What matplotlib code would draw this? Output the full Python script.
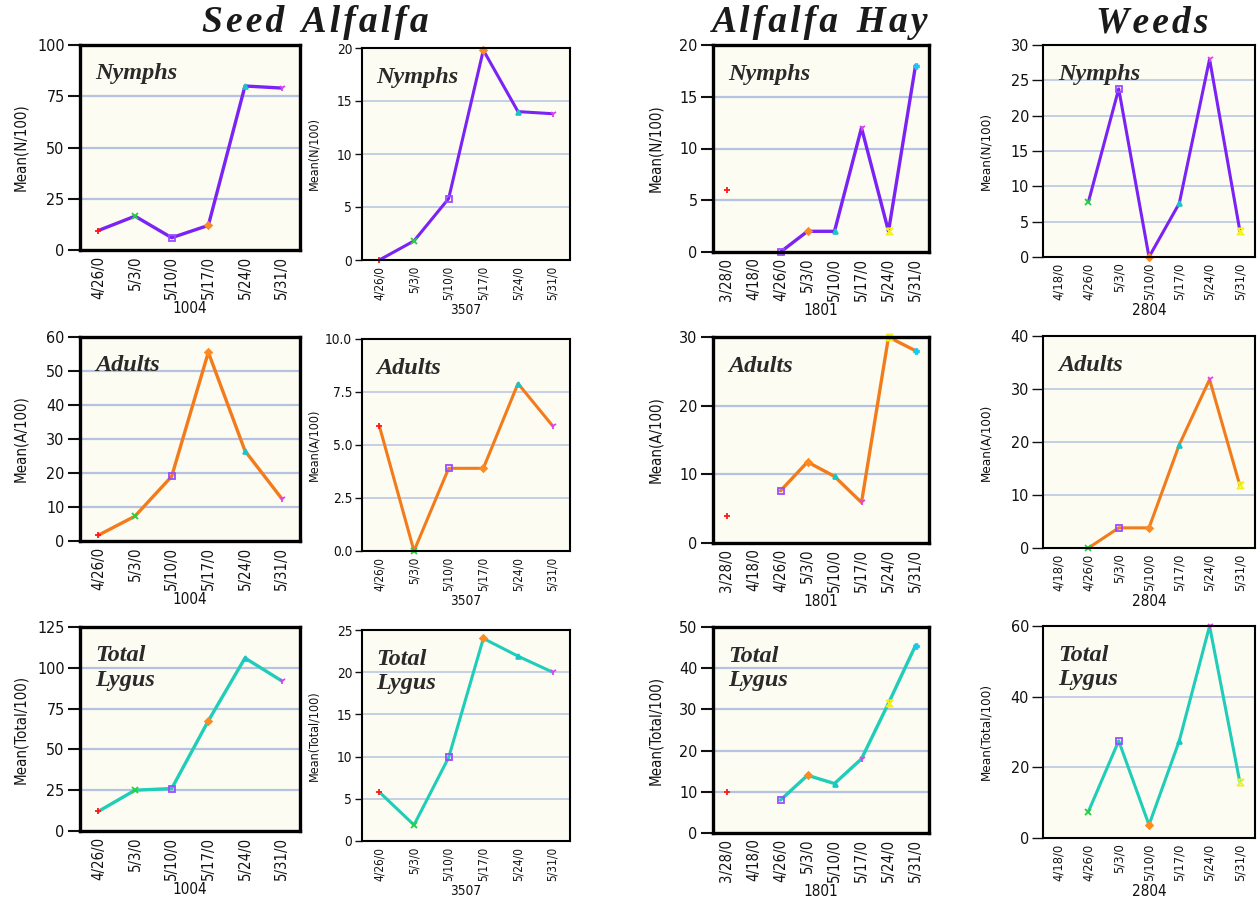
import numpy as np
import matplotlib
matplotlib.use("Agg")
import matplotlib.pyplot as plt

# ---- data ----
dates_1004 = ["4/26/0", "5/3/0", "5/10/0", "5/17/0", "5/24/0", "5/31/0"]
nymphs_1004 = [9.5, 16.5, 6.0, 12.0, 80.0, 79.0]
adults_1004 = [1.7, 7.3, 19.0, 55.5, 26.5, 12.5]
total_1004 = [12.0, 25.0, 26.0, 67.5, 106.0, 92.0]

dates_3507 = ["4/26/0", "5/3/0", "5/10/0", "5/17/0", "5/24/0", "5/31/0"]
nymphs_3507 = [0.0, 1.8, 5.8, 19.8, 14.0, 13.8]
adults_3507 = [5.9, 0.0, 3.9, 3.9, 7.9, 5.9]
total_3507 = [5.8, 1.9, 9.9, 24.0, 21.9, 20.0]

dates_1801 = ["3/28/0", "4/18/0", "4/26/0", "5/3/0", "5/10/0", "5/17/0", "5/24/0", "5/31/0"]
nymphs_1801 = [6.0, np.nan, 0.0, 2.0, 2.0, 12.0, 2.0, 18.0]
adults_1801 = [4.0, np.nan, 7.6, 11.8, 9.7, 5.9, 30.0, 28.0]
total_1801 = [10.0, np.nan, 8.0, 14.0, 12.0, 18.0, 31.5, 45.5]

dates_2804 = ["4/18/0", "4/26/0", "5/3/0", "5/10/0", "5/17/0", "5/24/0", "5/31/0"]
nymphs_2804 = [np.nan, 7.8, 23.8, 0.0, 7.6, 28.0, 3.7]
adults_2804 = [np.nan, 0.0, 3.8, 3.8, 19.5, 31.8, 11.8]
total_2804 = [np.nan, 7.5, 27.5, 3.7, 27.5, 60.0, 15.8]

yticks_1004 = [[0, 25, 50, 75, 100], [0, 10, 20, 30, 40, 50, 60], [0, 25, 50, 75, 100, 125]]
yticks_3507 = [[0, 5, 10, 15, 20], [0.0, 2.5, 5.0, 7.5, 10.0], [0, 5, 10, 15, 20, 25]]
yticks_1801 = [[0, 5, 10, 15, 20], [0, 10, 20, 30], [0, 10, 20, 30, 40, 50]]
yticks_2804 = [[0, 5, 10, 15, 20, 25, 30], [0, 10, 20, 30, 40], [0, 20, 40, 60]]

row_names = ["Nymphs", "Adults", "Total\nLygus"]
y_labels = ["Mean(N/100)", "Mean(A/100)", "Mean(Total/100)"]
line_colors = ["#7B22F5", "#F27C1C", "#1FCDB8"]
group_titles = ["Seed Alfalfa", "Alfalfa Hay", "Weeds"]

# per-date marker style (cycled by category index, JMP-like)
hour = [(-1, 1), (1, 1), (-1, -1), (1, -1), (-1, 1)]
mk_styles = ["+", "x", "s", "D", "^", "1", hour, "P"]
mk_colors = ["#FF1A1A", "#22D040", "#9A4DFF", "#FF8A1F", "#18C6C6", "#E040F0", "#F2F020", "#18C8F0"]
mk_filled = [False, False, False, True, True, False, False, True]

W, H = 1257, 901
fig = plt.figure(figsize=(W / 100, H / 100), dpi=100)
fig.patch.set_facecolor("white")

cond = dict(fontfamily=["DejaVu Sans"], fontstretch="condensed")
serif = ["Liberation Serif", "DejaVu Serif"]

# fs: y tick size, xfs: x tick size, lfs: y label size, xlfs: x label size,
# tl: tick length, lab_x: right edge (px) of the y label
columns = [
    dict(name="1004", dates=dates_1004, series=[nymphs_1004, adults_1004, total_1004], yticks=yticks_1004,
         x=(80, 300), rows=[(45, 250), (337, 541), (627, 831)], heavy=True,
         fs=11.5, xfs=10.7, lfs=10.8, xlfs=11, tl=9, lab_x=28),
    dict(name="3507", dates=dates_3507, series=[nymphs_3507, adults_3507, total_3507], yticks=yticks_3507,
         x=(362, 570), rows=[(48, 260), (339, 551), (630, 841)], heavy=False,
         fs=9.8, xfs=8.5, lfs=9, xlfs=9.8, tl=5, lab_x=320),
    dict(name="1801", dates=dates_1801, series=[nymphs_1801, adults_1801, total_1801], yticks=yticks_1801,
         x=(713, 929), rows=[(45, 252), (337, 543), (627, 833)], heavy=True,
         fs=11.5, xfs=10.7, lfs=10.8, xlfs=11, tl=9, lab_x=663),
    dict(name="2804", dates=dates_2804, series=[nymphs_2804, adults_2804, total_2804], yticks=yticks_2804,
         x=(1043, 1255), rows=[(45, 257), (336, 548), (626, 838)], heavy=False,
         fs=11.5, xfs=9.3, lfs=9.6, xlfs=11, tl=8, lab_x=992),
]

for col in columns:
    x0, x1 = col["x"]
    n = len(col["dates"])
    xs = np.arange(n)
    for r, (top, bot) in enumerate(col["rows"]):
        ax = fig.add_axes([x0 / W, 1 - bot / H, (x1 - x0) / W, (bot - top) / H])
        ax.set_facecolor("#FDFCF2")
        ticks = col["yticks"][r]
        vals = np.array(col["series"][r], dtype=float)
        for t in ticks[1:-1]:
            ax.axhline(t, color="#B5C3E0", lw=1.6 if col["heavy"] else 1.1, zorder=1)
        ax.plot(xs, vals, color=line_colors[r], lw=2.4 if col["heavy"] else 2.2,
                zorder=3, clip_on=False, solid_capstyle="round")
        for i in range(n):
            if np.isnan(vals[i]):
                continue
            ax.plot(xs[i], vals[i], marker=mk_styles[i], color=mk_colors[i],
                    ms=3.5 if mk_filled[i] else 4.5, mew=1.3,
                    mfc=mk_colors[i] if mk_filled[i] else "none", zorder=4, clip_on=False)
        ax.set_xlim(-0.5, n - 0.5)
        ax.set_ylim(ticks[0], ticks[-1])
        ax.set_yticks(ticks)
        if r == 1 and col["name"] == "3507":
            ax.set_yticklabels([f"{t:.1f}" for t in ticks], **cond, fontsize=col["fs"])
        else:
            ax.set_yticklabels([f"{t:g}" for t in ticks], **cond, fontsize=col["fs"])
        ax.set_xticks(xs)
        ax.set_xticklabels(col["dates"], rotation=90, **cond, fontsize=col["xfs"])
        ax.tick_params(axis="y", length=col["tl"], width=1.5 if col["heavy"] else 1.0,
                       pad=2, colors="#111111")
        ax.tick_params(axis="x", length=0, pad=4, colors="#111111")
        ax.set_ylabel(y_labels[r], **cond, fontsize=col["lfs"], color="#111111")
        ax.yaxis.set_label_coords((col["lab_x"] - x0) / (x1 - x0), 0.5)
        ax.set_xlabel(col["name"], **cond, fontsize=col["xlfs"], labelpad=2, color="#111111")
        for sp in ax.spines.values():
            sp.set_linewidth(2.4 if col["heavy"] else 1.5)
            sp.set_color("black")
            sp.set_zorder(5)
        ax.text(0.07, 0.91, row_names[r], transform=ax.transAxes, ha="left", va="top",
                fontfamily=serif, fontweight="bold", fontstyle="italic", fontsize=17.5,
                color="#2A2A2A", linespacing=1.2, zorder=6)

# group titles, letter-spaced
title_pos = [(315, 23), (820, 23), (1152, 23)]
for t, (px, py) in zip(group_titles, title_pos):
    spaced = "\u200a".join(t).replace("\u200a \u200a", "  ")
    fig.text(px / W, 1 - py / H, spaced, ha="center", va="center", fontfamily=serif,
             fontweight="bold", fontstyle="italic", fontsize=27, color="#1A1A1A")

fig.savefig("out.png", dpi=100)
